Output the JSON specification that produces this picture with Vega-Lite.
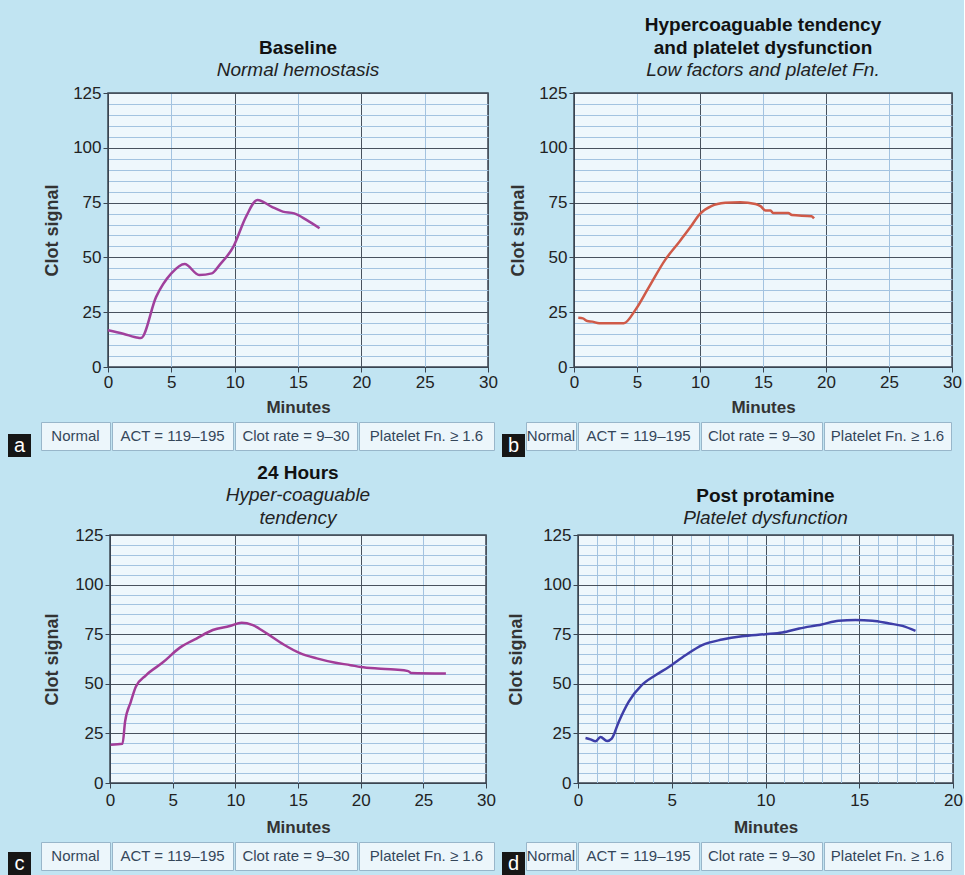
{
  "$schema": "https://vega.github.io/schema/vega-lite/v6.json",
  "padding": {"left": 8, "top": 15, "right": 0, "bottom": 0},
  "datasets": {
    "curves": [
      {"panel": "a", "minutes": 0, "signal": 16.8}, {"panel": "a", "minutes": 1.2, "signal": 15.2}, {"panel": "a", "minutes": 2.4, "signal": 13.3}, {"panel": "a", "minutes": 2.6, "signal": 13.2}, {"panel": "a", "minutes": 3.8, "signal": 32}, {"panel": "a", "minutes": 5.0, "signal": 42.7}, {"panel": "a", "minutes": 6.05, "signal": 47}, {"panel": "a", "minutes": 7.2, "signal": 42}, {"panel": "a", "minutes": 8.2, "signal": 42.7}, {"panel": "a", "minutes": 8.8, "signal": 46.5}, {"panel": "a", "minutes": 9.9, "signal": 54.9}, {"panel": "a", "minutes": 10.9, "signal": 68.6}, {"panel": "a", "minutes": 11.8, "signal": 76.2}, {"panel": "a", "minutes": 12.9, "signal": 73.2}, {"panel": "a", "minutes": 13.8, "signal": 70.9}, {"panel": "a", "minutes": 14.7, "signal": 70.1}, {"panel": "a", "minutes": 15.7, "signal": 67}, {"panel": "a", "minutes": 16.7, "signal": 63.3},
      {"panel": "b", "minutes": 0.34, "signal": 22.5}, {"panel": "b", "minutes": 0.7, "signal": 22.2}, {"panel": "b", "minutes": 1.05, "signal": 21}, {"panel": "b", "minutes": 1.45, "signal": 20.7}, {"panel": "b", "minutes": 2.0, "signal": 20}, {"panel": "b", "minutes": 3.95, "signal": 20}, {"panel": "b", "minutes": 4.9, "signal": 26.3}, {"panel": "b", "minutes": 5.9, "signal": 36}, {"panel": "b", "minutes": 7.25, "signal": 49}, {"panel": "b", "minutes": 8.3, "signal": 56.7}, {"panel": "b", "minutes": 9.2, "signal": 63.5}, {"panel": "b", "minutes": 10.0, "signal": 69.9}, {"panel": "b", "minutes": 10.9, "signal": 73.4}, {"panel": "b", "minutes": 12.0, "signal": 74.9}, {"panel": "b", "minutes": 13.2, "signal": 75.2}, {"panel": "b", "minutes": 14.4, "signal": 74.4}, {"panel": "b", "minutes": 14.8, "signal": 73.4}, {"panel": "b", "minutes": 15.2, "signal": 71.4}, {"panel": "b", "minutes": 15.6, "signal": 71.4}, {"panel": "b", "minutes": 15.8, "signal": 70.3}, {"panel": "b", "minutes": 17.0, "signal": 70.3}, {"panel": "b", "minutes": 17.3, "signal": 69.3}, {"panel": "b", "minutes": 18.85, "signal": 68.8}, {"panel": "b", "minutes": 19.05, "signal": 67.8},
      {"panel": "c", "minutes": 0.05, "signal": 19.3}, {"panel": "c", "minutes": 1.0, "signal": 19.8}, {"panel": "c", "minutes": 1.2, "signal": 30.8}, {"panel": "c", "minutes": 1.66, "signal": 40.9}, {"panel": "c", "minutes": 2.06, "signal": 48.5}, {"panel": "c", "minutes": 2.87, "signal": 54.3}, {"panel": "c", "minutes": 4.2, "signal": 60.7}, {"panel": "c", "minutes": 5.55, "signal": 68.1}, {"panel": "c", "minutes": 6.9, "signal": 72.8}, {"panel": "c", "minutes": 8.2, "signal": 77.1}, {"panel": "c", "minutes": 9.56, "signal": 79.1}, {"panel": "c", "minutes": 10.5, "signal": 80.8}, {"panel": "c", "minutes": 11.4, "signal": 79.6}, {"panel": "c", "minutes": 12.5, "signal": 75.4}, {"panel": "c", "minutes": 13.85, "signal": 69.8}, {"panel": "c", "minutes": 15.2, "signal": 65.3}, {"panel": "c", "minutes": 16.5, "signal": 62.8}, {"panel": "c", "minutes": 17.9, "signal": 60.7}, {"panel": "c", "minutes": 19.2, "signal": 59.4}, {"panel": "c", "minutes": 20.0, "signal": 58.5}, {"panel": "c", "minutes": 21.35, "signal": 57.7}, {"panel": "c", "minutes": 22.7, "signal": 57.2}, {"panel": "c", "minutes": 23.8, "signal": 56.4}, {"panel": "c", "minutes": 24.0, "signal": 55.5}, {"panel": "c", "minutes": 26.8, "signal": 55.2},
      {"panel": "d", "minutes": 0.4, "signal": 22.7}, {"panel": "d", "minutes": 0.66, "signal": 22}, {"panel": "d", "minutes": 0.93, "signal": 21}, {"panel": "d", "minutes": 1.2, "signal": 23.2}, {"panel": "d", "minutes": 1.55, "signal": 21.2}, {"panel": "d", "minutes": 1.8, "signal": 22.4}, {"panel": "d", "minutes": 2.17, "signal": 30.8}, {"panel": "d", "minutes": 2.7, "signal": 40.9}, {"panel": "d", "minutes": 3.4, "signal": 49.3}, {"panel": "d", "minutes": 4.13, "signal": 54.3}, {"panel": "d", "minutes": 4.84, "signal": 58.5}, {"panel": "d", "minutes": 5.73, "signal": 64.4}, {"panel": "d", "minutes": 6.62, "signal": 69.5}, {"panel": "d", "minutes": 7.69, "signal": 72.3}, {"panel": "d", "minutes": 8.75, "signal": 74}, {"panel": "d", "minutes": 10.0, "signal": 75}, {"panel": "d", "minutes": 10.9, "signal": 75.9}, {"panel": "d", "minutes": 11.8, "signal": 77.9}, {"panel": "d", "minutes": 13.0, "signal": 79.9}, {"panel": "d", "minutes": 13.9, "signal": 81.8}, {"panel": "d", "minutes": 14.8, "signal": 82.1}, {"panel": "d", "minutes": 15.7, "signal": 81.8}, {"panel": "d", "minutes": 16.6, "signal": 80.4}, {"panel": "d", "minutes": 17.3, "signal": 79.2}, {"panel": "d", "minutes": 18.0, "signal": 76.7}
    ]
  },
  "spacing": 6,
  "vconcat": [
    {
      "spacing": 5,
      "vconcat": [
        {
          "spacing": 9,
          "hconcat": [
            {"width": 25, "height": 1, "data": {"values": []}, "mark": "point"},
            {
              "width": 380, "height": 274,
              "view": {"fill": "#eef7fc", "stroke": "#3a4450", "strokeWidth": 1.5},
              "title": {"text": [" ", "Baseline"], "subtitle": "Normal hemostasis"},
              "data": {"name": "curves"},
              "transform": [{"filter": "datum.panel === 'a'"}],
              "mark": {"type": "line", "color": "#a0409c", "strokeWidth": 2.5, "interpolate": "monotone"},
              "encoding": {
                "x": {"field": "minutes", "type": "quantitative", "scale": {"domain": [0, 30], "nice": false}, "axis": {"title": "Minutes", "values": [0, 5, 10, 15, 20, 25, 30], "gridColor": {"condition": {"test": "datum.value % 10 === 0", "value": "#48525e"}, "value": "#a3c3e0"}}},
                "y": {"field": "signal", "type": "quantitative", "scale": {"domain": [0, 125], "nice": false}, "axis": {"title": "Clot signal", "titlePadding": 11, "values": [0, 5, 10, 15, 20, 25, 30, 35, 40, 45, 50, 55, 60, 65, 70, 75, 80, 85, 90, 95, 100, 105, 110, 115, 120, 125], "labelExpr": "datum.value % 25 === 0 ? datum.label : ''", "tickSize": {"condition": {"test": "datum.value % 25 === 0", "value": 5}, "value": 0}, "gridColor": {"condition": {"test": "datum.value % 25 === 0", "value": "#48525e"}, "value": "#a3c3e0"}}}
              }
            },
            {
              "width": 378, "height": 274,
              "view": {"fill": "#eef7fc", "stroke": "#3a4450", "strokeWidth": 1.5},
              "title": {"text": ["Hypercoaguable tendency", "and platelet dysfunction"], "subtitle": "Low factors and platelet Fn."},
              "data": {"name": "curves"},
              "transform": [{"filter": "datum.panel === 'b'"}],
              "mark": {"type": "line", "color": "#cf5a48", "strokeWidth": 2.5, "interpolate": "monotone"},
              "encoding": {
                "x": {"field": "minutes", "type": "quantitative", "scale": {"domain": [0, 30], "nice": false}, "axis": {"title": "Minutes", "values": [0, 5, 10, 15, 20, 25, 30], "gridColor": {"condition": {"test": "datum.value % 10 === 0", "value": "#48525e"}, "value": "#a3c3e0"}}},
                "y": {"field": "signal", "type": "quantitative", "scale": {"domain": [0, 125], "nice": false}, "axis": {"title": "Clot signal", "titlePadding": 11, "values": [0, 5, 10, 15, 20, 25, 30, 35, 40, 45, 50, 55, 60, 65, 70, 75, 80, 85, 90, 95, 100, 105, 110, 115, 120, 125], "labelExpr": "datum.value % 25 === 0 ? datum.label : ''", "tickSize": {"condition": {"test": "datum.value % 25 === 0", "value": 5}, "value": 0}, "gridColor": {"condition": {"test": "datum.value % 25 === 0", "value": "#48525e"}, "value": "#a3c3e0"}}}
              }
            }
          ]
        },
        {
          "spacing": 7,
          "hconcat": [
            {
              "spacing": 9,
              "hconcat": [
                {
                  "spacing": 0,
                  "vconcat": [
                    {"width": 23, "height": 12, "data": {"values": []}, "mark": "point"},
                    {"width": 23, "height": 23, "view": {"fill": "#161616", "stroke": null}, "data": {"values": [{"label": "a"}]}, "mark": {"type": "text", "color": "#ffffff", "fontSize": 20, "baseline": "middle", "align": "center"}, "encoding": {"text": {"field": "label"}}}
                  ]
                },
                {
                  "spacing": 0,
                  "hconcat": [
                    {"width": 69, "height": 28, "view": {"fill": "#ecf6fb", "stroke": "#98b6ca"}, "data": {"values": [{"cell": "Normal"}]}, "mark": {"type": "text", "fontSize": 15, "color": "#34465a"}, "encoding": {"text": {"field": "cell"}}},
                    {"width": 121, "height": 28, "view": {"fill": "#ecf6fb", "stroke": "#98b6ca"}, "data": {"values": [{"cell": "ACT = 119–195"}]}, "mark": {"type": "text", "fontSize": 15, "color": "#34465a"}, "encoding": {"text": {"field": "cell"}}},
                    {"width": 122, "height": 28, "view": {"fill": "#ecf6fb", "stroke": "#98b6ca"}, "data": {"values": [{"cell": "Clot rate = 9–30"}]}, "mark": {"type": "text", "fontSize": 15, "color": "#34465a"}, "encoding": {"text": {"field": "cell"}}},
                    {"width": 135, "height": 28, "view": {"fill": "#ecf6fb", "stroke": "#98b6ca"}, "data": {"values": [{"cell": "Platelet Fn. ≥ 1.6"}]}, "mark": {"type": "text", "fontSize": 15, "color": "#34465a"}, "encoding": {"text": {"field": "cell"}}}
                  ]
                }
              ]
            },
            {
              "spacing": 0,
              "hconcat": [
                {
                  "spacing": 0,
                  "vconcat": [
                    {"width": 23, "height": 12, "data": {"values": []}, "mark": "point"},
                    {"width": 23, "height": 23, "view": {"fill": "#161616", "stroke": null}, "data": {"values": [{"label": "b"}]}, "mark": {"type": "text", "color": "#ffffff", "fontSize": 20, "baseline": "middle", "align": "center"}, "encoding": {"text": {"field": "label"}}}
                  ]
                },
                {"width": 50, "height": 28, "view": {"fill": "#ecf6fb", "stroke": "#98b6ca"}, "data": {"values": [{"cell": "Normal"}]}, "mark": {"type": "text", "fontSize": 15, "color": "#34465a"}, "encoding": {"text": {"field": "cell"}}},
                {"width": 121, "height": 28, "view": {"fill": "#ecf6fb", "stroke": "#98b6ca"}, "data": {"values": [{"cell": "ACT = 119–195"}]}, "mark": {"type": "text", "fontSize": 15, "color": "#34465a"}, "encoding": {"text": {"field": "cell"}}},
                {"width": 121, "height": 28, "view": {"fill": "#ecf6fb", "stroke": "#98b6ca"}, "data": {"values": [{"cell": "Clot rate = 9–30"}]}, "mark": {"type": "text", "fontSize": 15, "color": "#34465a"}, "encoding": {"text": {"field": "cell"}}},
                {"width": 127, "height": 28, "view": {"fill": "#ecf6fb", "stroke": "#98b6ca"}, "data": {"values": [{"cell": "Platelet Fn. ≥ 1.6"}]}, "mark": {"type": "text", "fontSize": 15, "color": "#34465a"}, "encoding": {"text": {"field": "cell"}}}
              ]
            }
          ]
        }
      ]
    },
    {
      "spacing": 5,
      "vconcat": [
        {
          "spacing": 9,
          "hconcat": [
            {"width": 25, "height": 1, "data": {"values": []}, "mark": "point"},
            {
              "width": 376, "height": 248,
              "view": {"fill": "#eef7fc", "stroke": "#3a4450", "strokeWidth": 1.5},
              "title": {"text": "24 Hours", "subtitle": ["Hyper-coaguable", "tendency"], "offset": -2},
              "data": {"name": "curves"},
              "transform": [{"filter": "datum.panel === 'c'"}],
              "mark": {"type": "line", "color": "#a23c98", "strokeWidth": 2.5, "interpolate": "monotone"},
              "encoding": {
                "x": {"field": "minutes", "type": "quantitative", "scale": {"domain": [0, 30], "nice": false}, "axis": {"title": "Minutes", "labelPadding": 4, "titlePadding": 11, "values": [0, 5, 10, 15, 20, 25, 30], "gridColor": {"condition": {"test": "datum.value % 10 === 0", "value": "#48525e"}, "value": "#a3c3e0"}}},
                "y": {"field": "signal", "type": "quantitative", "scale": {"domain": [0, 125], "nice": false}, "axis": {"title": "Clot signal", "titlePadding": 13, "values": [0, 5, 10, 15, 20, 25, 30, 35, 40, 45, 50, 55, 60, 65, 70, 75, 80, 85, 90, 95, 100, 105, 110, 115, 120, 125], "labelExpr": "datum.value % 25 === 0 ? datum.label : ''", "tickSize": {"condition": {"test": "datum.value % 25 === 0", "value": 5}, "value": 0}, "gridColor": {"condition": {"test": "datum.value % 25 === 0", "value": "#48525e"}, "value": "#a3c3e0"}}}
              }
            },
            {
              "width": 375, "height": 248,
              "view": {"fill": "#eef7fc", "stroke": "#3a4450", "strokeWidth": 1.5},
              "title": {"text": [" ", "Post protamine"], "subtitle": "Platelet dysfunction", "offset": -2},
              "data": {"name": "curves"},
              "transform": [{"filter": "datum.panel === 'd'"}],
              "mark": {"type": "line", "color": "#3e3ea8", "strokeWidth": 2.5, "interpolate": "monotone"},
              "encoding": {
                "x": {"field": "minutes", "type": "quantitative", "scale": {"domain": [0, 20], "nice": false}, "axis": {"title": "Minutes", "labelPadding": 4, "titlePadding": 11, "values": [0, 1, 2, 3, 4, 5, 6, 7, 8, 9, 10, 11, 12, 13, 14, 15, 16, 17, 18, 19, 20], "labelExpr": "datum.value % 5 === 0 ? datum.label : ''", "tickSize": {"condition": {"test": "datum.value % 5 === 0", "value": 5}, "value": 0}, "gridColor": {"condition": {"test": "datum.value % 5 === 0", "value": "#48525e"}, "value": "#a3c3e0"}}},
                "y": {"field": "signal", "type": "quantitative", "scale": {"domain": [0, 125], "nice": false}, "axis": {"title": "Clot signal", "titlePadding": 17, "values": [0, 5, 10, 15, 20, 25, 30, 35, 40, 45, 50, 55, 60, 65, 70, 75, 80, 85, 90, 95, 100, 105, 110, 115, 120, 125], "labelExpr": "datum.value % 25 === 0 ? datum.label : ''", "tickSize": {"condition": {"test": "datum.value % 25 === 0", "value": 5}, "value": 0}, "gridColor": {"condition": {"test": "datum.value % 25 === 0", "value": "#48525e"}, "value": "#a3c3e0"}}}
              }
            }
          ]
        },
        {
          "spacing": 7,
          "hconcat": [
            {
              "spacing": 9,
              "hconcat": [
                {
                  "spacing": 0,
                  "vconcat": [
                    {"width": 23, "height": 10, "data": {"values": []}, "mark": "point"},
                    {"width": 23, "height": 23, "view": {"fill": "#161616", "stroke": null}, "data": {"values": [{"label": "c"}]}, "mark": {"type": "text", "color": "#ffffff", "fontSize": 20, "baseline": "middle", "align": "center"}, "encoding": {"text": {"field": "label"}}}
                  ]
                },
                {
                  "spacing": 0,
                  "hconcat": [
                    {"width": 69, "height": 28, "view": {"fill": "#ecf6fb", "stroke": "#98b6ca"}, "data": {"values": [{"cell": "Normal"}]}, "mark": {"type": "text", "fontSize": 15, "color": "#34465a"}, "encoding": {"text": {"field": "cell"}}},
                    {"width": 121, "height": 28, "view": {"fill": "#ecf6fb", "stroke": "#98b6ca"}, "data": {"values": [{"cell": "ACT = 119–195"}]}, "mark": {"type": "text", "fontSize": 15, "color": "#34465a"}, "encoding": {"text": {"field": "cell"}}},
                    {"width": 122, "height": 28, "view": {"fill": "#ecf6fb", "stroke": "#98b6ca"}, "data": {"values": [{"cell": "Clot rate = 9–30"}]}, "mark": {"type": "text", "fontSize": 15, "color": "#34465a"}, "encoding": {"text": {"field": "cell"}}},
                    {"width": 135, "height": 28, "view": {"fill": "#ecf6fb", "stroke": "#98b6ca"}, "data": {"values": [{"cell": "Platelet Fn. ≥ 1.6"}]}, "mark": {"type": "text", "fontSize": 15, "color": "#34465a"}, "encoding": {"text": {"field": "cell"}}}
                  ]
                }
              ]
            },
            {
              "spacing": 0,
              "hconcat": [
                {
                  "spacing": 0,
                  "vconcat": [
                    {"width": 23, "height": 10, "data": {"values": []}, "mark": "point"},
                    {"width": 23, "height": 23, "view": {"fill": "#161616", "stroke": null}, "data": {"values": [{"label": "d"}]}, "mark": {"type": "text", "color": "#ffffff", "fontSize": 20, "baseline": "middle", "align": "center"}, "encoding": {"text": {"field": "label"}}}
                  ]
                },
                {"width": 50, "height": 28, "view": {"fill": "#ecf6fb", "stroke": "#98b6ca"}, "data": {"values": [{"cell": "Normal"}]}, "mark": {"type": "text", "fontSize": 15, "color": "#34465a"}, "encoding": {"text": {"field": "cell"}}},
                {"width": 121, "height": 28, "view": {"fill": "#ecf6fb", "stroke": "#98b6ca"}, "data": {"values": [{"cell": "ACT = 119–195"}]}, "mark": {"type": "text", "fontSize": 15, "color": "#34465a"}, "encoding": {"text": {"field": "cell"}}},
                {"width": 121, "height": 28, "view": {"fill": "#ecf6fb", "stroke": "#98b6ca"}, "data": {"values": [{"cell": "Clot rate = 9–30"}]}, "mark": {"type": "text", "fontSize": 15, "color": "#34465a"}, "encoding": {"text": {"field": "cell"}}},
                {"width": 127, "height": 28, "view": {"fill": "#ecf6fb", "stroke": "#98b6ca"}, "data": {"values": [{"cell": "Platelet Fn. ≥ 1.6"}]}, "mark": {"type": "text", "fontSize": 15, "color": "#34465a"}, "encoding": {"text": {"field": "cell"}}}
              ]
            }
          ]
        }
      ]
    }
  ],
  "config": {
    "background": "#c1e4f2",
    "font": "Liberation Sans",
    "view": {"stroke": null},
    "title": {"fontSize": 19, "fontWeight": "bold", "color": "#111111", "lineHeight": 23, "subtitleFontSize": 19, "subtitleFontStyle": "italic", "subtitleColor": "#222222", "subtitleLineHeight": 23, "subtitlePadding": 0, "offset": 4, "frame": "group", "anchor": "middle"},
    "axis": {"labelFontSize": 17, "labelColor": "#222222", "labelPadding": 2, "labelFlush": false, "labelOverlap": false, "titleFontSize": 17, "titleFontWeight": "bold", "titleColor": "#333333", "domainColor": "#3a4450", "tickColor": "#3a4450", "tickSize": 5, "grid": true, "gridWidth": 1, "gridOpacity": 1},
    "axisX": {"titlePadding": 9},
    "axisY": {"titleFontSize": 18}
  }
}
